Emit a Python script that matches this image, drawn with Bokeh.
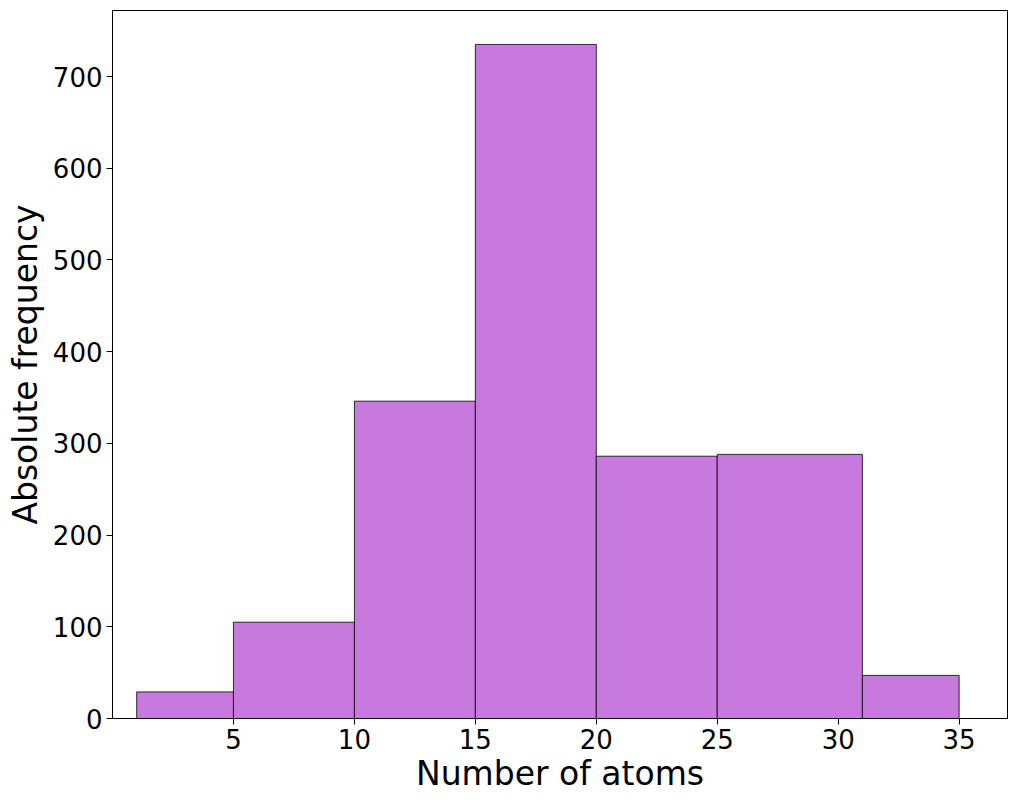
from bokeh.plotting import figure
from bokeh.models import Range1d, FixedTicker, ColumnDataSource
from bokeh.embed import file_html
from bokeh.resources import INLINE

bin_edges = [1, 5, 10, 15, 20, 25, 31, 35]
counts = [29, 105, 346, 735, 286, 288, 47]
x_ticks = [5, 10, 15, 20, 25, 30, 35]
y_ticks = [0, 100, 200, 300, 400, 500, 600, 700]

src = ColumnDataSource(dict(left=bin_edges[:-1], right=bin_edges[1:],
                            top=counts, bottom=[0] * len(counts)))

p = figure(width=1016, height=804, output_backend="svg", toolbar_location=None,
           x_range=Range1d(0, 37), y_range=Range1d(0, 772),
           min_border_left=112, min_border_top=10, min_border_right=9, min_border_bottom=86)

p.quad(left="left", right="right", top="top", bottom="bottom", source=src,
       fill_color="#c879de", line_color="black", line_alpha=0.8, line_width=1)

p.xgrid.visible = False
p.ygrid.visible = False
p.outline_line_color = "black"
p.outline_line_width = 1
p.outline_line_alpha = 1

p.xaxis.ticker = FixedTicker(ticks=x_ticks)
p.yaxis.ticker = FixedTicker(ticks=y_ticks)
p.xaxis.axis_label = "Number of atoms"
p.yaxis.axis_label = "Absolute frequency"
for ax in (p.xaxis, p.yaxis):
    ax.axis_label_text_font = "DejaVu Sans"
    ax.axis_label_text_font_size = "33px"
    ax.axis_label_text_font_style = "normal"
    ax.axis_label_text_color = "black"
    ax.major_label_text_font = "DejaVu Sans"
    ax.major_label_text_font_size = "26px"
    ax.major_label_text_color = "black"
    ax.major_tick_out = 6
    ax.major_tick_in = 0
    ax.minor_tick_out = 0
    ax.minor_tick_in = 0
    ax.axis_line_color = "black"
    ax.major_tick_line_color = "black"
p.xaxis.major_label_standoff = 4
p.yaxis.major_label_standoff = 4
p.xaxis.axis_label_standoff = 2
p.yaxis.axis_label_standoff = 5

open("out.html", "w").write(file_html(p, INLINE))
